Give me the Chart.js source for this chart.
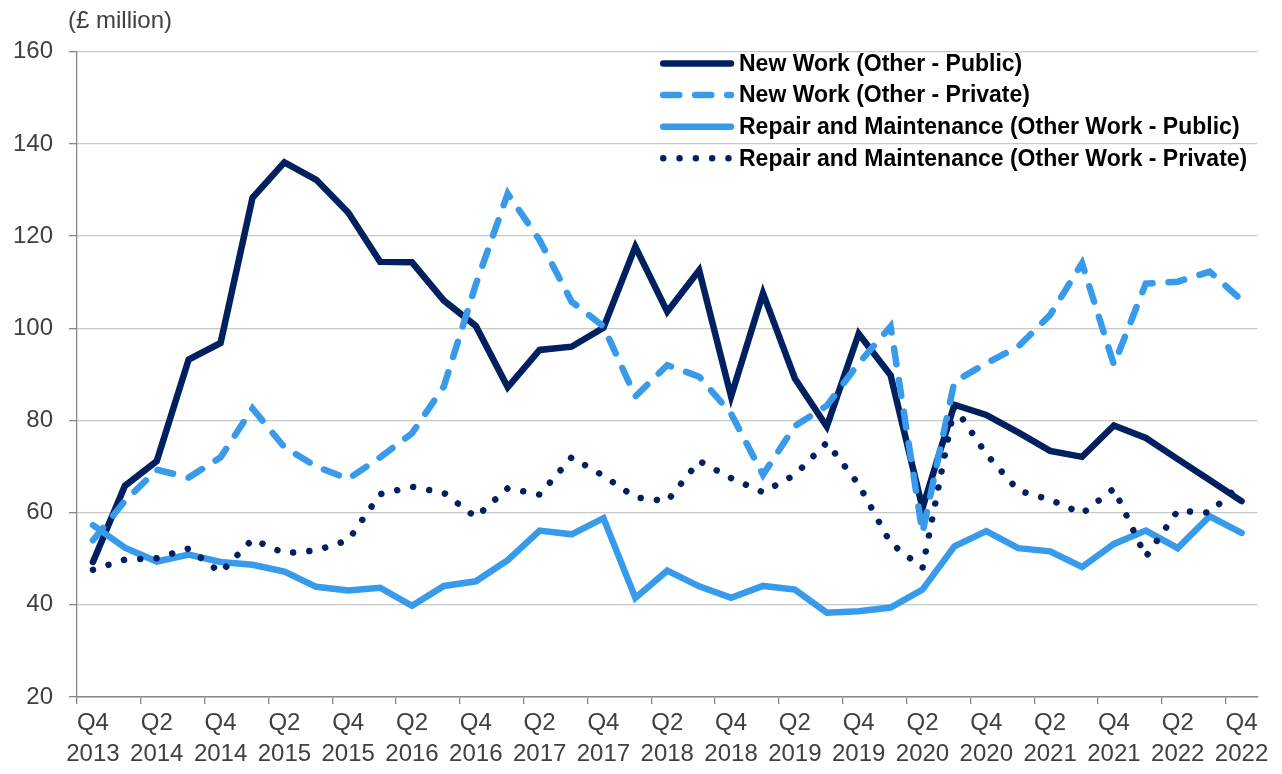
<!DOCTYPE html>
<html>
<head>
<meta charset="utf-8">
<script src="https://cdn.jsdelivr.net/npm/chart.js@4.4.1/dist/chart.umd.min.js"></script>
<style>
  html, body { margin: 0; padding: 0; background: #ffffff; }
  #wrap { width: 1282px; height: 774px; position: relative; }
</style>
</head>
<body>
<div id="wrap"><canvas id="chart"></canvas></div>
<script>
// ---- data ----
const categories = [
  'Q4 2013',
  'Q1 2014', 'Q2 2014', 'Q3 2014', 'Q4 2014',
  'Q1 2015', 'Q2 2015', 'Q3 2015', 'Q4 2015',
  'Q1 2016', 'Q2 2016', 'Q3 2016', 'Q4 2016',
  'Q1 2017', 'Q2 2017', 'Q3 2017', 'Q4 2017',
  'Q1 2018', 'Q2 2018', 'Q3 2018', 'Q4 2018',
  'Q1 2019', 'Q2 2019', 'Q3 2019', 'Q4 2019',
  'Q1 2020', 'Q2 2020', 'Q3 2020', 'Q4 2020',
  'Q1 2021', 'Q2 2021', 'Q3 2021', 'Q4 2021',
  'Q1 2022', 'Q2 2022', 'Q3 2022', 'Q4 2022'
];

const newWorkPublic = [
  49.3,
  65.8, 71.2, 93.2, 96.8,
  128.3, 136.0, 132.2, 125.1,
  114.4, 114.3, 106.0, 100.5,
  87.2, 95.3, 96.0, 100.1,
  117.7, 103.6, 112.6, 85.2,
  107.6, 89.1, 78.7, 98.8,
  89.8, 61.0, 83.4, 81.2,
  77.4, 73.4, 72.1, 78.9,
  76.2, 71.6, 67.1, 62.5
];

const newWorkPrivate = [
  54.0,
  62.5, 69.3, 67.6, 72.0,
  82.6, 74.2, 70.0, 67.3,
  72.0, 77.2, 87.4, 109.5,
  129.2, 119.1, 105.8, 100.4,
  85.2, 92.0, 89.5, 81.5,
  68.2, 78.8, 83.2, 92.4,
  100.4, 55.6, 88.4, 92.4,
  96.0, 102.9, 114.1, 92.1,
  109.7, 110.1, 112.3, 106.1
];

const repairPublic = [
  57.3,
  52.4, 49.4, 50.9, 49.3,
  48.7, 47.2, 43.9, 43.1,
  43.7, 39.8, 44.1, 45.1,
  49.7, 56.1, 55.3, 58.8,
  41.5, 47.4, 44.0, 41.5,
  44.1, 43.3, 38.3, 38.6,
  39.4, 43.3, 52.7, 56.0,
  52.3, 51.6, 48.2, 53.2,
  56.1, 52.3, 59.2, 55.6
];

const repairPrivate = [
  47.6,
  49.8, 50.1, 52.2, 47.0,
  54.2, 51.2, 51.8, 54.0,
  64.0, 65.6, 64.3, 59.0,
  65.3, 63.9, 72.0, 68.0,
  63.3, 62.5, 71.2, 67.5,
  64.4, 68.2, 75.2, 66.1,
  53.4, 48.0, 83.0, 72.7,
  64.8, 62.8, 59.8, 65.2,
  50.4, 60.4, 60.0, 66.3
];

const seriesNames = [
  'New Work (Other - Public)',
  'New Work (Other - Private)',
  'Repair and Maintenance (Other Work - Public)',
  'Repair and Maintenance (Other Work - Private)'
];

const yAxisTitle = '(£ million)';
const yMin = 20, yMax = 160, yStep = 20;

// ---- styles ----
const NAVY = '#002060';
const BLUE = '#389AEB';
const AXIS = '#888888';
const GRID = '#C8C8C8';
const TXT  = '#404040';
const FONT = '"Liberation Sans", Arial, Helvetica, sans-serif';

const legendLayout = { x0: 663.25, x1: 731, top: 63.5, row: 31.6, tx: 739 };

const legendPlugin = {
  id: 'customLegend',
  afterDraw(chart) {
    const ctx = chart.ctx;
    ctx.save();
    chart.data.datasets.forEach((ds, k) => {
      const y = legendLayout.top + k * legendLayout.row;
      ctx.beginPath();
      ctx.strokeStyle = ds.borderColor;
      ctx.lineWidth = ds.borderWidth;
      ctx.lineCap = 'round';
      ctx.setLineDash(ds.borderDash || []);
      ctx.moveTo(legendLayout.x0, y);
      ctx.lineTo(legendLayout.x1, y);
      ctx.stroke();
      ctx.setLineDash([]);
      ctx.fillStyle = '#000000';
      ctx.font = 'bold 23px ' + FONT;
      ctx.textBaseline = 'middle';
      ctx.textAlign = 'left';
      ctx.fillText(ds.label, legendLayout.tx, y + 1);
    });
    ctx.restore();
  }
};

const titlePlugin = {
  id: 'yTitle',
  afterDraw(chart) {
    const ctx = chart.ctx;
    ctx.save();
    ctx.fillStyle = TXT;
    ctx.font = '24px ' + FONT;
    ctx.textBaseline = 'middle';
    ctx.textAlign = 'left';
    ctx.fillText(yAxisTitle, 68, 21);
    ctx.restore();
  }
};

const whiteBg = {
  id: 'whiteBg',
  beforeDraw(chart) {
    const ctx = chart.ctx;
    ctx.save();
    ctx.fillStyle = '#ffffff';
    ctx.fillRect(0, 0, chart.width, chart.height);
    ctx.restore();
  }
};

new Chart(document.getElementById('chart'), {
  type: 'line',
  data: {
    labels: categories,
    datasets: [
      { label: seriesNames[0], data: newWorkPublic, borderColor: NAVY, backgroundColor: NAVY, borderWidth: 6.5, order: 4 },
      { label: seriesNames[1], data: newWorkPrivate, borderColor: BLUE, backgroundColor: BLUE, borderWidth: 6.5, borderDash: [16, 16], order: 3 },
      { label: seriesNames[2], data: repairPublic, borderColor: BLUE, backgroundColor: BLUE, borderWidth: 6.5, order: 2 },
      { label: seriesNames[3], data: repairPrivate, borderColor: NAVY, backgroundColor: NAVY, borderWidth: 6.5, borderDash: [0.001, 16.3], order: 1 }
    ]
  },
  options: {
    responsive: true,
    maintainAspectRatio: false,
    animation: false,
    layout: { padding: { left: 0, right: 24.5, top: 51.7, bottom: 0 } },
    elements: {
      point: { radius: 0, hoverRadius: 0 },
      line: { tension: 0, borderCapStyle: 'round', borderJoinStyle: 'miter', fill: false }
    },
    plugins: { legend: { display: false }, tooltip: { enabled: false } },
    scales: {
      x: {
        type: 'category',
        offset: true,
        grid: {
          offset: true,
          drawOnChartArea: false,
          drawTicks: true,
          tickLength: 7,
          color: (c) => (c.index % 2 === 0 ? AXIS : 'rgba(0,0,0,0)'),
          lineWidth: 1.3
        },
        border: { display: true, color: AXIS, width: 1.6 },
        ticks: {
          autoSkip: false,
          maxRotation: 0,
          minRotation: 0,
          padding: 4,
          color: TXT,
          font: { family: FONT, size: 24, lineHeight: 1.29 },
          callback: function (value, index) {
            if (index % 2 !== 0) return '';
            return this.getLabelForValue(value).split(' ');
          }
        },
        afterFit(s) { s.height = 77; s.paddingLeft = 0; s.paddingRight = 0; }
      },
      y: {
        min: yMin,
        max: yMax,
        ticks: { stepSize: yStep, padding: 16, color: TXT, font: { family: FONT, size: 24 } },
        grid: { color: GRID, lineWidth: 1.3, drawTicks: true, tickLength: 8, tickColor: AXIS },
        border: { display: true, color: AXIS, width: 1.3 },
        afterFit(s) { s.width = 77; s.paddingTop = 0; s.paddingBottom = 0; }
      }
    }
  },
  plugins: [whiteBg, legendPlugin, titlePlugin]
});
</script>
</body>
</html>
